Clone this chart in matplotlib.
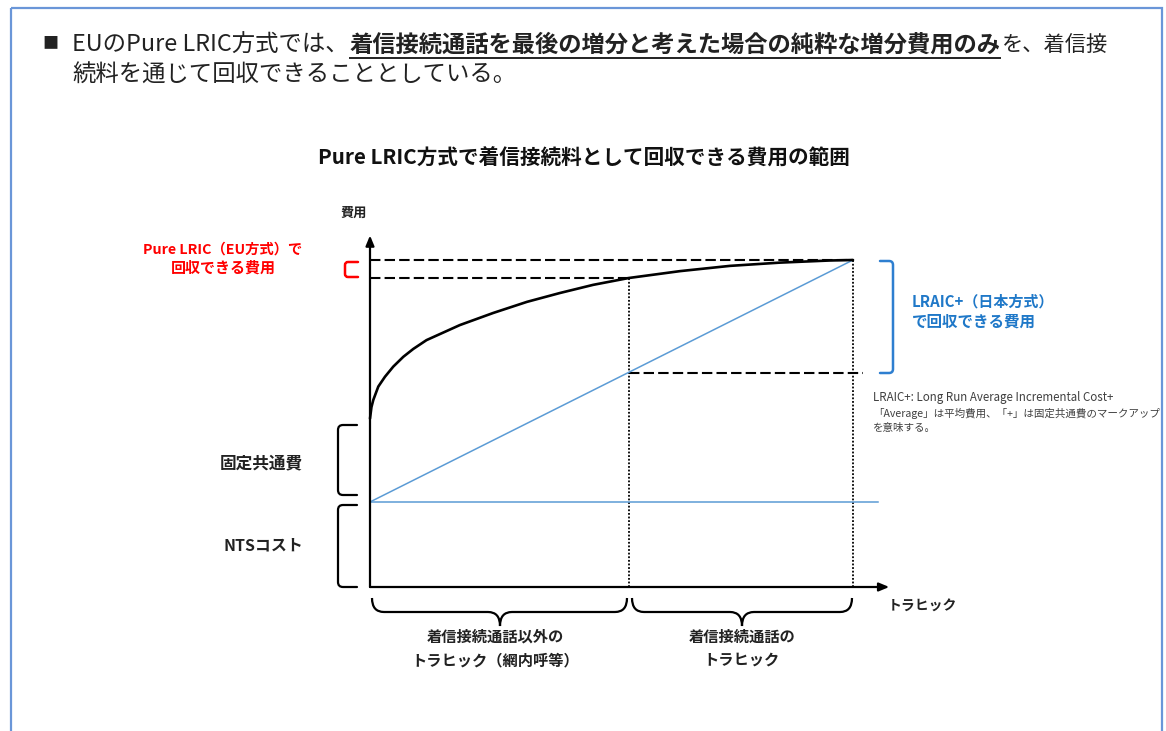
import matplotlib
matplotlib.use("Agg")
import matplotlib.pyplot as plt
from matplotlib.path import Path
from matplotlib.patches import PathPatch, Rectangle

plt.rcParams['font.family'] = ['Noto Sans CJK JP', 'DejaVu Sans']

# --- data (traffic 0-100, cost 0-100) ---
total_traffic = 100
split_traffic = 53.6      # 着信接続通話以外 / 着信接続通話 の境目
total_cost = 100
nts_cost = 26
pure_lric_base = 94.5     # 曲線上の境目のコスト
lraic_base = 65.4         # 直線上の境目のコスト

curve_x = [0, 0.3, 0.68, 1.72, 3.1, 4.82, 6.9, 8.96, 11.7, 18.6, 25.5, 32.5,
           39.3, 46.2, 53.6, 64.2, 74.5, 84.9, 95.2, 100]
curve_y = [51.5, 55.0, 57.2, 61.3, 64.3, 67.4, 70.4, 72.8, 75.5, 80.1, 83.8, 87.2,
           89.9, 92.4, 94.5, 96.6, 98.2, 99.2, 99.85, 100]

W, H = 1166, 731
fig = plt.figure(figsize=(W / 100, H / 100), dpi=100)

# 背景キャンバス(ピクセル座標)
cv = fig.add_axes([0, 0, 1, 1])
cv.set_xlim(0, W)
cv.set_ylim(H, 0)
cv.axis('off')

# グラフ本体
ax = fig.add_axes([370 / W, (H - 587) / H, 530 / W, 357 / H])
ax.set_xlim(0, 530 / 4.83)
ax.set_ylim(0, 357 / 3.27)
ax.axis('off')
ax.patch.set_alpha(0)

renderer = fig.canvas.get_renderer()


def fit_text(x0, x1, y, s, **kw):
    t = cv.text(x0, y, s, ha='left', va='center', fontsize=12, **kw)
    w = t.get_window_extent(renderer).width
    t.set_fontsize(12 * (x1 - x0) / w)
    return t


def label(x, y, s, size, ha='center', color='#222222', bold=True):
    return cv.text(x, y, s, ha=ha, va='center', fontsize=size, color=color,
                   fontweight='bold' if bold else 'normal')


# 枠
cv.add_patch(Rectangle((11, 8), 1151, 740, fill=False, ec='#6a96d8', lw=1.6))

# 見出し文
fit_text(42, 58, 44, '■', color='#222222')
t1 = fit_text(72, 348, 45, 'EUのPure LRIC方式では、', color='#222222')
fit_text(350, 1000, 45, '着信接続通話を最後の増分と考えた場合の純粋な増分費用のみ',
         color='#222222', fontweight='bold')
cv.plot([350, 1000], [58, 58], color='#222222', lw=1.4)
fit_text(1002, 1108, 45, 'を、着信接', color='#222222')
label(72, 75, '続料を通じて回収できることとしている。', t1.get_fontsize(), ha='left', bold=False)

# タイトル
fit_text(318, 848, 158, 'Pure LRIC方式で着信接続料として回収できる費用の範囲',
         color='#111111', fontweight='bold')

# 線
ax.plot(curve_x, curve_y, color='black', lw=1.9, solid_joinstyle='round',
        solid_capstyle='round', clip_on=False, zorder=4)
ax.plot([0, total_traffic], [nts_cost, total_cost], color='#5b9bd5', lw=1.1,
        clip_on=False, zorder=3)
ax.plot([0, 105.2], [nts_cost, nts_cost], color='#5b9bd5', lw=1.1,
        clip_on=False, zorder=3)

dash = (0, (5, 2))
ax.plot([0, total_traffic], [total_cost, total_cost], color='black', lw=1.5,
        ls=dash, clip_on=False)
ax.plot([0, split_traffic], [pure_lric_base, pure_lric_base], color='black', lw=1.5,
        ls=dash, clip_on=False)
ax.plot([split_traffic, 102.1], [lraic_base, lraic_base], color='black', lw=1.5,
        ls=dash, clip_on=False)

dot = (0, (1, 1))
ax.plot([split_traffic, split_traffic], [0, pure_lric_base], color='black', lw=1.3,
        ls=dot, clip_on=False)
ax.plot([total_traffic, total_traffic], [0, total_cost], color='black', lw=1.3,
        ls=dot, clip_on=False)

# 軸(矢印)
arrow = dict(arrowstyle='-|>,head_length=0.6,head_width=0.25', color='black', lw=1.6,
             shrinkA=0, shrinkB=0)
ax.annotate('', xy=(0, 107.5), xytext=(0, 0), arrowprops=arrow, annotation_clip=False)
ax.annotate('', xy=(107.5, 0), xytext=(0, 0), arrowprops=arrow, annotation_clip=False)


def square_bracket(xv, xt, y0, y1, color, r=4, lw=1.6):
    # 角を少し丸めた [ / ] 形
    sx = 1 if xt > xv else -1
    verts = [(xt, y0), (xv + sx * r, y0), (xv, y0), (xv, y0 + r),
             (xv, y1 - r), (xv, y1), (xv + sx * r, y1), (xt, y1)]
    codes = [Path.MOVETO, Path.LINETO, Path.CURVE3, Path.CURVE3,
             Path.LINETO, Path.CURVE3, Path.CURVE3, Path.LINETO]
    cv.add_patch(PathPatch(Path(verts, codes), fill=False, ec=color, lw=lw,
                           capstyle='round'))


def curly_brace(xa, xb, xm, y0, y1, y2, r=12, lw=1.6):
    verts = [(xa, y0), (xa, y1), (xa + r, y1),
             (xm - r, y1), (xm, y1), (xm, y2),
             (xm, y1), (xm + r, y1),
             (xb - r, y1), (xb, y1), (xb, y0)]
    codes = [Path.MOVETO, Path.CURVE3, Path.CURVE3,
             Path.LINETO, Path.CURVE3, Path.CURVE3,
             Path.CURVE3, Path.CURVE3,
             Path.LINETO, Path.CURVE3, Path.CURVE3]
    cv.add_patch(PathPatch(Path(verts, codes), fill=False, ec='black', lw=lw))


square_bracket(345, 358, 262, 277, '#ff0000', r=3, lw=1.8)
square_bracket(338, 357, 425, 495, 'black', r=5)
square_bracket(338, 357, 505, 587, 'black', r=5)
square_bracket(893, 880, 261, 373, '#2e7fd0', r=4, lw=1.8)

curly_brace(372, 627, 500, 598, 612, 626)
curly_brace(632, 852, 742, 598, 612, 626)

# ラベル
label(354, 213, '費用', 9.5)
label(223, 250, 'Pure LRIC（EU方式）で', 10.3, color='#ff0000')
label(223, 268, '回収できる費用', 10.8, color='#ff0000')
label(912, 302, 'LRAIC+（日本方式）', 10.8, ha='left', color='#1f78c8')
label(912, 322, 'で回収できる費用', 11.2, ha='left', color='#1f78c8')
tn = fit_text(873, 1160, 413, '「Average」は平均費用、「+」は固定共通費のマークアップ',
              color='#404040')
note_size = tn.get_fontsize()
fit_text(873, 1115, 397, 'LRAIC+: Long Run Average Incremental Cost+', color='#404040')
label(873, 428, 'を意味する。', note_size, ha='left', color='#404040', bold=False)
label(303, 463, '固定共通費', 12, ha='right')
label(303, 545, 'NTSコスト', 11.5, ha='right')
label(888, 607, 'トラヒック', 10, ha='left')
label(495, 637, '着信接続通話以外の', 11)
label(495, 660, 'トラヒック（網内呼等）', 11)
label(742, 637, '着信接続通話の', 11)
label(742, 660, 'トラヒック', 11)

fig.savefig('out.png', dpi=100)
